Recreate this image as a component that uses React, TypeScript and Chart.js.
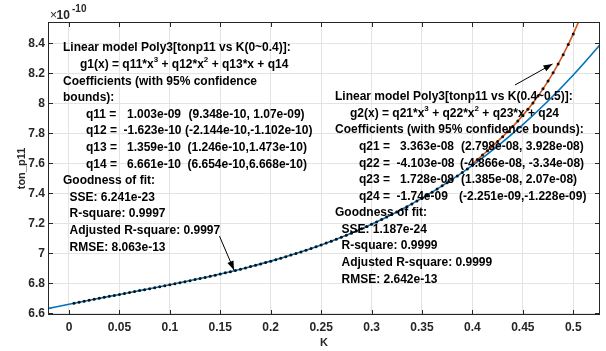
import React, { useEffect, useRef } from "react";
import { Chart, registerables } from "chart.js";

Chart.register(...registerables);

const FONT = '"Liberation Sans", Arial, Helvetica, sans-serif';

// Measured data points (ton_p11, units of 1e-10) versus K
const dataK = [
  0.005, 0.01, 0.015, 0.02, 0.025, 0.03, 0.035, 0.04, 0.045, 0.05,
  0.055, 0.06, 0.065, 0.07, 0.075, 0.08, 0.085, 0.09, 0.095, 0.1,
  0.105, 0.11, 0.115, 0.12, 0.125, 0.13, 0.135, 0.14, 0.145, 0.15,
  0.155, 0.16, 0.165, 0.17, 0.175, 0.18, 0.185, 0.19, 0.195, 0.2,
  0.205, 0.21, 0.215, 0.22, 0.225, 0.23, 0.235, 0.24, 0.245, 0.25,
  0.255, 0.26, 0.265, 0.27, 0.275, 0.28, 0.285, 0.29, 0.295, 0.3,
  0.305, 0.31, 0.315, 0.32, 0.325, 0.33, 0.335, 0.34, 0.345, 0.35,
  0.355, 0.36, 0.365, 0.37, 0.375, 0.38, 0.385, 0.39, 0.395, 0.4,
  0.405, 0.41, 0.415, 0.42, 0.425, 0.43, 0.435, 0.44, 0.445, 0.45,
  0.455, 0.46, 0.465, 0.47, 0.475, 0.48, 0.485, 0.49, 0.495, 0.5,
];
const dataTon = [
  6.6678, 6.6744, 6.6811, 6.6876, 6.6941, 6.7006, 6.707, 6.7134, 6.7198, 6.7261,
  6.7325, 6.7389, 6.7452, 6.7516, 6.758, 6.7645, 6.7709, 6.7775, 6.7841, 6.7907,
  6.7974, 6.8042, 6.8111, 6.818, 6.8251, 6.8323, 6.8396, 6.847, 6.8545, 6.8622,
  6.87, 6.878, 6.8861, 6.8944, 6.9029, 6.9115, 6.9204, 6.9294, 6.9387, 6.9481,
  6.9578, 6.9677, 6.9778, 6.9882, 6.9989, 7.0097, 7.0209, 7.0323, 7.044, 7.056,
  7.0683, 7.0809, 7.0938, 7.107, 7.1206, 7.1345, 7.1487, 7.1632, 7.1782, 7.1934,
  7.2091, 7.2251, 7.2415, 7.2583, 7.2756, 7.2932, 7.3112, 7.3297, 7.3485, 7.3679,
  7.3876, 7.4079, 7.4285, 7.4497, 7.4713, 7.4934, 7.516, 7.5391, 7.5627, 7.59,
  7.625, 7.6547, 7.6846, 7.7149, 7.7458, 7.7777, 7.811, 7.8453, 7.8815, 7.9196,
  7.9599, 8.0026, 8.048, 8.0964, 8.148, 8.203, 8.2617, 8.3243, 8.3912, 8.4625,
];

// Fit g1 (blue)
const fit1K = [
  -0.02, 0, 0.025, 0.05, 0.075, 0.1, 0.125, 0.15, 0.175, 0.2, 0.225, 0.25,
  0.275, 0.3, 0.325, 0.35, 0.375, 0.4, 0.425, 0.45, 0.475, 0.5, 0.525, 0.53,
];
const fit1Ton = [
  6.6331, 6.661, 6.6941, 6.7261, 6.758, 6.7907, 6.8251, 6.8622, 6.9029, 6.9481,
  6.9989, 7.056, 7.1206, 7.1934, 7.2756, 7.3679, 7.4713, 7.5868, 7.7154, 7.8579,
  8.0153, 8.1885, 8.3785, 8.4186,
];

// Fit g2 (orange)
const fit2K = [0.4, 0.41, 0.42, 0.43, 0.44, 0.45, 0.46, 0.47, 0.48, 0.49, 0.5, 0.51];
const fit2Ton = [
  7.5952, 7.6547, 7.7149, 7.7777, 7.8453, 7.9196, 8.0026, 8.0964, 8.203, 8.3243,
  8.4625, 8.6195,
];

const xTickValues = [0, 0.05, 0.1, 0.15, 0.2, 0.25, 0.3, 0.35, 0.4, 0.45, 0.5];
const xTickLabels = ["0", "0.05", "0.1", "0.15", "0.2", "0.25", "0.3", "0.35", "0.4", "0.45", "0.5"];
const yTickValues = [6.6, 6.8, 7, 7.2, 7.4, 7.6, 7.8, 8, 8.2, 8.4];
const yTickLabels = ["6.6", "6.8", "7", "7.2", "7.4", "7.6", "7.8", "8", "8.2", "8.4"];

const X_MIN = -0.0208;
const X_MAX = 0.5265;
const Y_MIN = 6.589;
const Y_MAX = 8.542;

type Seg = { t: string; sup?: boolean };
type Part = { x: number; segs: Seg[] };

const s = (t: string): Seg[] => [{ t }];

const leftBlock: Part[][] = [
  [{ x: 63, segs: s("Linear model Poly3[tonp11 vs K(0~0.4)]:") }],
  [{ x: 80, segs: [{ t: "g1(x) = q11*x" }, { t: "3", sup: true }, { t: " + q12*x" }, { t: "2", sup: true }, { t: " + q13*x + q14" }] }],
  [{ x: 63, segs: s("Coefficients (with 95% confidence") }],
  [{ x: 63, segs: s("bounds):") }],
  [{ x: 86, segs: s("q11 =") }, { x: 127, segs: s("1.003e-09") }, { x: 188.5, segs: s("(9.348e-10, 1.07e-09)") }],
  [{ x: 86, segs: s("q12 =") }, { x: 123.5, segs: s("-1.623e-10") }, { x: 185, segs: s("(-2.144e-10,-1.102e-10)") }],
  [{ x: 86, segs: s("q13 =") }, { x: 127, segs: s("1.359e-10") }, { x: 187.5, segs: s("(1.246e-10,1.473e-10)") }],
  [{ x: 86, segs: s("q14 =") }, { x: 127, segs: s("6.661e-10") }, { x: 187.5, segs: s("(6.654e-10,6.668e-10)") }],
  [{ x: 63, segs: s("Goodness of fit:") }],
  [{ x: 69.5, segs: s("SSE: 6.241e-23") }],
  [{ x: 69.5, segs: s("R-square: 0.9997") }],
  [{ x: 69.5, segs: s("Adjusted R-square: 0.9997") }],
  [{ x: 69.5, segs: s("RMSE: 8.063e-13") }],
];

const rightBlock: Part[][] = [
  [{ x: 335, segs: s("Linear model Poly3[tonp11 vs K(0.4~0.5)]:") }],
  [{ x: 350, segs: [{ t: "g2(x) = q21*x" }, { t: "3", sup: true }, { t: " + q22*x" }, { t: "2", sup: true }, { t: " + q23*x + q24" }] }],
  [{ x: 335, segs: s("Coefficients (with 95% confidence bounds):") }],
  [{ x: 359, segs: s("q21 =") }, { x: 400, segs: s("3.363e-08") }, { x: 461, segs: s("(2.798e-08, 3.928e-08)") }],
  [{ x: 359, segs: s("q22 =") }, { x: 396.5, segs: s("-4.103e-08") }, { x: 460, segs: s("(-4.866e-08, -3.34e-08)") }],
  [{ x: 359, segs: s("q23 =") }, { x: 400, segs: s("1.728e-08") }, { x: 461, segs: s("(1.385e-08, 2.07e-08)") }],
  [{ x: 359, segs: s("q24 =") }, { x: 396.5, segs: s("-1.74e-09") }, { x: 459, segs: s("(-2.251e-09,-1.228e-09)") }],
  [{ x: 335, segs: s("Goodness of fit:") }],
  [{ x: 341.5, segs: s("SSE: 1.187e-24") }],
  [{ x: 341.5, segs: s("R-square: 0.9999") }],
  [{ x: 341.5, segs: s("Adjusted R-square: 0.9999") }],
  [{ x: 341.5, segs: s("RMSE: 2.642e-13") }],
];

// Arrows in data coordinates: [fromK, fromTon, toK, toTon]
const arrows = [
  [0.1492, 7.115, 0.1636, 6.889],
  [0.4422, 8.122, 0.4794, 8.262],
];

function drawSegs(ctx: CanvasRenderingContext2D, x: number, y: number, segs: Seg[]) {
  let cx = x;
  for (const sg of segs) {
    if (sg.sup) {
      ctx.font = `bold 8px ${FONT}`;
      ctx.fillText(sg.t, cx, y - 5);
    } else {
      ctx.font = `bold 12px ${FONT}`;
      ctx.fillText(sg.t, cx, y);
    }
    cx += ctx.measureText(sg.t).width;
  }
}

function drawArrow(ctx: CanvasRenderingContext2D, x1: number, y1: number, x2: number, y2: number) {
  ctx.beginPath();
  ctx.moveTo(x1, y1);
  ctx.lineTo(x2, y2);
  ctx.stroke();
  const a = Math.atan2(y2 - y1, x2 - x1);
  const L = 9;
  const W = 3.3;
  ctx.beginPath();
  ctx.moveTo(x2, y2);
  ctx.lineTo(x2 - L * Math.cos(a) + W * Math.sin(a), y2 - L * Math.sin(a) - W * Math.cos(a));
  ctx.lineTo(x2 - L * Math.cos(a) - W * Math.sin(a), y2 - L * Math.sin(a) + W * Math.cos(a));
  ctx.closePath();
  ctx.fill();
}

const decorPlugin = {
  id: "decor",
  afterDraw(chart: any) {
    const ctx: CanvasRenderingContext2D = chart.ctx;
    const { left, right, top, bottom } = chart.chartArea;
    const xs = chart.scales.x;
    const ys = chart.scales.y;
    ctx.save();
    // axes box
    ctx.strokeStyle = "#262626";
    ctx.lineWidth = 1;
    ctx.strokeRect(Math.round(left) + 0.5, Math.round(top) + 0.5, Math.round(right - left) - 1, Math.round(bottom - top) - 1);
    // inward ticks
    ctx.beginPath();
    for (const v of xTickValues) {
      const px = Math.round(xs.getPixelForValue(v)) + 0.5;
      ctx.moveTo(px, bottom);
      ctx.lineTo(px, bottom - 5);
      ctx.moveTo(px, top);
      ctx.lineTo(px, top + 5);
    }
    for (const v of yTickValues) {
      const py = Math.round(ys.getPixelForValue(v)) + 0.5;
      ctx.moveTo(left, py);
      ctx.lineTo(left + 5, py);
      ctx.moveTo(right, py);
      ctx.lineTo(right - 5, py);
    }
    ctx.stroke();

    // exponent label
    ctx.fillStyle = "#262626";
    ctx.textBaseline = "middle";
    ctx.textAlign = "left";
    ctx.font = `12px ${FONT}`;
    ctx.fillText("\u00d7", left + 2, top - 6);
    ctx.font = `bold 12px ${FONT}`;
    ctx.fillText("10", left + 8.5, top - 6);
    ctx.font = `bold 10px ${FONT}`;
    ctx.fillText("-10", left + 24, top - 12.5);

    // annotation text
    ctx.fillStyle = "#000000";
    const dy = 16.6;
    leftBlock.forEach((line, i) => {
      for (const p of line) drawSegs(ctx, p.x, 48 + i * dy, p.segs);
    });
    const dy2 = 16.57;
    rightBlock.forEach((line, i) => {
      for (const p of line) drawSegs(ctx, p.x, 97 + i * dy2, p.segs);
    });

    // arrows
    ctx.strokeStyle = "#000000";
    ctx.fillStyle = "#000000";
    ctx.lineWidth = 1;
    for (const [k1, t1, k2, t2] of arrows) {
      drawArrow(
        ctx,
        xs.getPixelForValue(k1),
        ys.getPixelForValue(t1),
        xs.getPixelForValue(k2),
        ys.getPixelForValue(t2)
      );
    }
    ctx.restore();
  },
};

export default function App() {
  const ref = useRef<HTMLCanvasElement | null>(null);

  useEffect(() => {
    if (!ref.current) return;
    const pts = (xsArr: number[], ysArr: number[]) => xsArr.map((x, i) => ({ x, y: ysArr[i] }));
    const tickFont = { family: FONT, size: 12, weight: "bold" as const };
    const chart = new Chart(ref.current, {
      type: "line",
      data: {
        datasets: [
          {
            label: "data",
            data: pts(dataK, dataTon),
            showLine: false,
            pointRadius: 1.5,
            pointBackgroundColor: "#111111",
            pointBorderWidth: 0,
            order: 0,
          },
          {
            label: "g1",
            data: pts(fit1K, fit1Ton),
            borderColor: "#0072BD",
            borderWidth: 1.6,
            pointRadius: 0,
            cubicInterpolationMode: "monotone",
            order: 2,
          },
          {
            label: "g2",
            data: pts(fit2K, fit2Ton),
            borderColor: "#D95319",
            borderWidth: 1.6,
            pointRadius: 0,
            cubicInterpolationMode: "monotone",
            order: 1,
          },
        ],
      },
      options: {
        animation: false,
        responsive: false,
        devicePixelRatio: 1,
        layout: { padding: { top: 22, right: 6, left: 0, bottom: 0 } },
        plugins: { legend: { display: false }, tooltip: { enabled: false } },
        scales: {
          x: {
            type: "linear",
            min: X_MIN,
            max: X_MAX,
            afterBuildTicks: (sc: any) => {
              sc.ticks = xTickValues.map((v) => ({ value: v }));
            },
            afterFit: (sc: any) => {
              sc.height = 36;
            },
            ticks: {
              autoSkip: false,
              maxRotation: 0,
              padding: 5,
              color: "#262626",
              font: tickFont,
              callback: (v: any) => {
                const i = xTickValues.findIndex((t) => Math.abs(t - Number(v)) < 1e-9);
                return i >= 0 ? xTickLabels[i] : "";
              },
            },
            grid: { color: "#e3e3e3", drawTicks: false },
            border: { display: false },
            title: {
              display: true,
              text: "K",
              color: "#262626",
              font: { family: FONT, size: 11, weight: "bold" },
              padding: { top: 0, bottom: 1.4 },
            },
          },
          y: {
            type: "linear",
            min: Y_MIN,
            max: Y_MAX,
            afterBuildTicks: (sc: any) => {
              sc.ticks = yTickValues.map((v) => ({ value: v }));
            },
            afterFit: (sc: any) => {
              sc.width = 48;
            },
            ticks: {
              autoSkip: false,
              padding: 3,
              color: "#262626",
              font: tickFont,
              callback: (v: any) => {
                const i = yTickValues.findIndex((t) => Math.abs(t - Number(v)) < 1e-9);
                return i >= 0 ? yTickLabels[i] : "";
              },
            },
            grid: { color: "#e3e3e3", drawTicks: false },
            border: { display: false },
            title: {
              display: true,
              text: "ton_p11",
              color: "#262626",
              font: { family: FONT, size: 11, weight: "bold" },
              padding: { top: 15.5, bottom: 0 },
            },
          },
        },
      },
      plugins: [decorPlugin],
    } as any);
    return () => chart.destroy();
  }, []);

  return (
    <div style={{ position: "fixed", left: 0, top: 0, width: 606, height: 351, background: "#ffffff" }}>
      <canvas ref={ref} width={606} height={351} style={{ display: "block", width: 606, height: 351 }} />
    </div>
  );
}
